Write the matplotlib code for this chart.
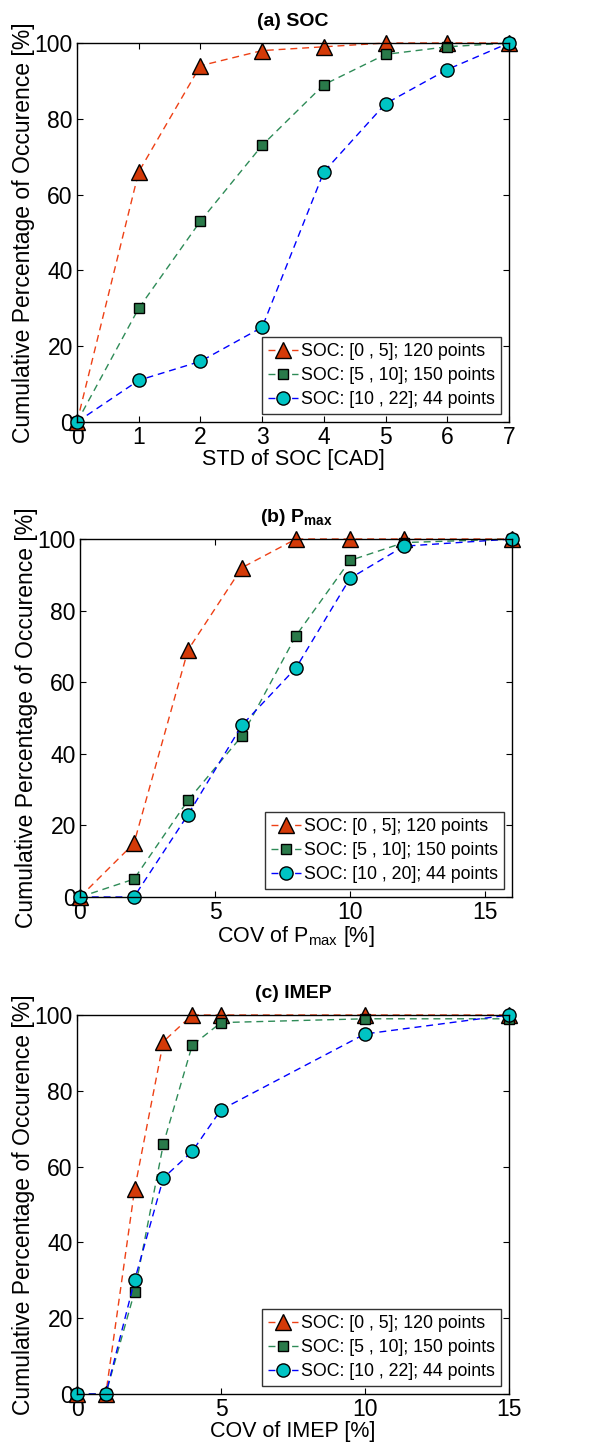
import numpy as np
import matplotlib.pyplot as plt

plt.rcParams['font.family'] = ['Liberation Sans', 'DejaVu Sans']
plt.rcParams['mathtext.fontset'] = 'custom'
plt.rcParams['mathtext.rm'] = 'Liberation Sans'
plt.rcParams['mathtext.bf'] = 'Liberation Sans:bold'

# panel (a) STD of SOC
soc_x = [0, 1, 2, 3, 4, 5, 6, 7]
soc_low = [0, 66, 94, 98, 99, 100, 100, 100]
soc_mid = [0, 30, 53, 73, 89, 97, 99, 100]
soc_high = [0, 11, 16, 25, 66, 84, 93, 100]

# panel (b) COV of Pmax
pmax_x = [0, 2, 4, 6, 8, 10, 12, 16]
pmax_low = [0, 15, 69, 92, 100, 100, 100, 100]
pmax_mid = [0, 5, 27, 45, 73, 94, 99, 100]
pmax_high = [0, 0, 23, 48, 64, 89, 98, 100]

# panel (c) COV of IMEP
imep_x = [0, 1, 2, 3, 4, 5, 10, 15]
imep_low = [0, 0, 54, 93, 100, 100, 100, 100]
imep_mid = [0, 0, 27, 66, 92, 98, 99, 99]
imep_high = [0, 0, 30, 57, 64, 75, 95, 100]

labels_a = ['SOC: [0 , 5]; 120 points', 'SOC: [5 , 10]; 150 points', 'SOC: [10 , 22]; 44 points']
labels_b = ['SOC: [0 , 5]; 120 points', 'SOC: [5 , 10]; 150 points', 'SOC: [10 , 20]; 44 points']

styles = [
    dict(color='#EE4015', marker='^', markerfacecolor='#D43A08', markersize=11),
    dict(color='#2E8B57', marker='s', markerfacecolor='#2A7A4A', markersize=7),
    dict(color='#0000FF', marker='o', markerfacecolor='#00C4C4', markersize=9.5),
]

fig = plt.figure(figsize=(5.91, 14.51), dpi=100)
W, H = 591, 1451
boxes = [(77, 43, 509, 422), (80, 539, 512, 897), (77, 1015, 509, 1394)]

panels = [
    (soc_x, [soc_low, soc_mid, soc_high], labels_a, '(a) SOC', 'STD of SOC [CAD]',
     [0, 7], list(range(8))),
    (pmax_x, [pmax_low, pmax_mid, pmax_high], labels_b, r'(b) P$_{\mathbf{max}}$',
     r'COV of P$_{\mathrm{max}}$ [%]', [0, 16], [0, 5, 10, 15]),
    (imep_x, [imep_low, imep_mid, imep_high], labels_a, '(c) IMEP', 'COV of IMEP [%]',
     [0, 15], [0, 5, 10, 15]),
]

for (l, t, r, b), (x, series, labels, title, xlabel, xlim, xticks) in zip(boxes, panels):
    ax = fig.add_axes([l / W, 1 - b / H, (r - l) / W, (b - t) / H])
    for ys, st, lab in zip(series, styles, labels):
        ax.plot(x, ys, linestyle=(0, (5, 3.5)), linewidth=1.0, markeredgecolor='black',
                markeredgewidth=1.0, label=lab, clip_on=False, **st)
    ax.set_xlim(xlim)
    ax.set_ylim(0, 100)
    ax.set_xticks(xticks)
    ax.set_yticks([0, 20, 40, 60, 80, 100])
    ax.tick_params(direction='in', top=True, right=True, labelsize=16.5, length=4, pad=3)
    for s in ax.spines.values():
        s.set_linewidth(1.0)
    ax.set_title(title, fontsize=14, fontweight='bold', pad=12)
    ax.set_xlabel(xlabel, fontsize=15.5, labelpad=0)
    ax.set_ylabel('Cumulative Percentage of Occurence [%]', fontsize=16.5, labelpad=0)
    leg = ax.legend(loc='lower right', fontsize=12.8, frameon=True, fancybox=False,
                    edgecolor='black', handlelength=1.7, handletextpad=0.15,
                    borderpad=0.35, labelspacing=0.38, borderaxespad=0.45)
    leg.get_frame().set_linewidth(1.0)

fig.savefig('out.png', dpi=100)
